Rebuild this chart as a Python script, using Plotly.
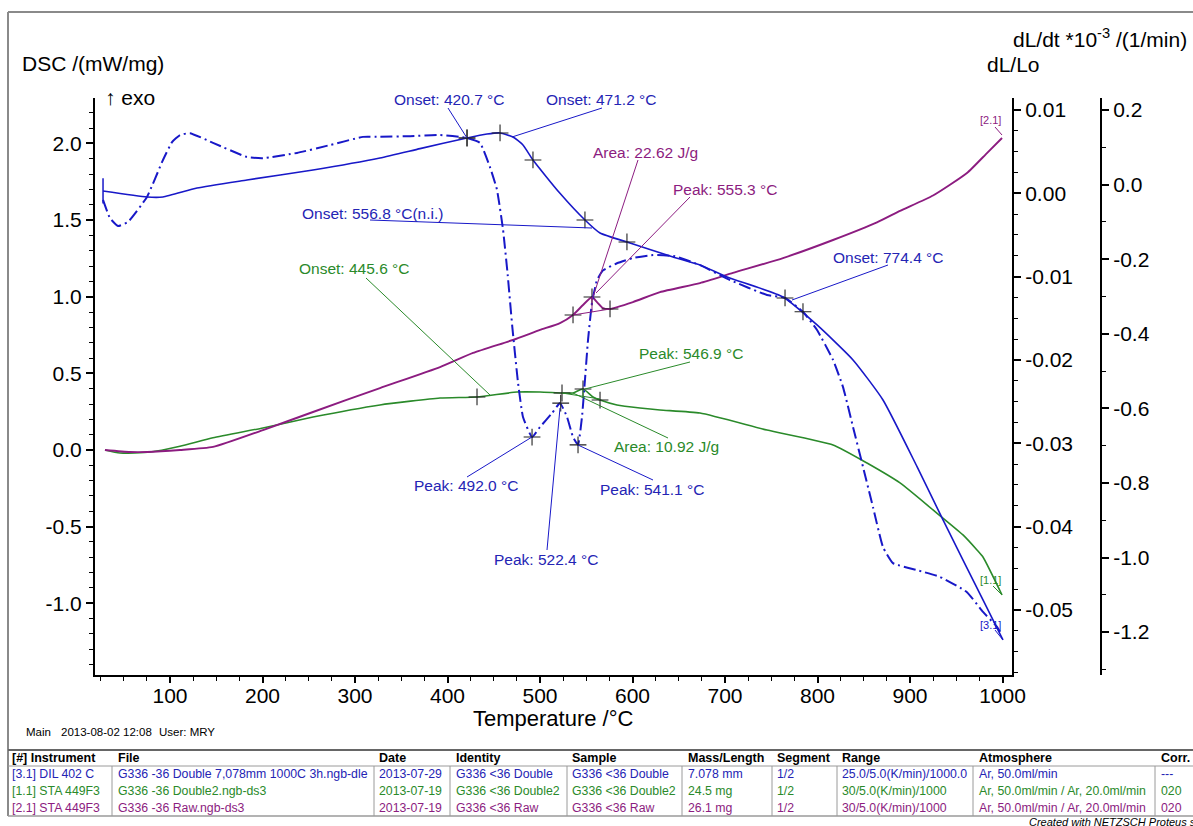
import plotly.graph_objects as go

# ---------------- data ----------------
# [1.1] STA 449F3  DSC (mW/mg)  - green
green_T = [29.7, 45.9, 78.4, 110.8, 146.5, 200.5, 254.6, 327.0, 391.9, 431.9, 475.1, 500.0,
           523.8, 535.7, 546.5, 557.3, 564.9, 583.2, 608.1, 629.7, 673.0, 745.4, 816.8, 853.5,
           889.2, 924.9, 957.3, 972.4, 978.9, 999.5]
green_dsc = [0.0, -0.020, -0.013, 0.025, 0.080, 0.144, 0.215, 0.294, 0.339, 0.346, 0.378, 0.378,
             0.372, 0.372, 0.398, 0.346, 0.326, 0.294, 0.274, 0.261, 0.241, 0.130, 0.033, -0.085,
             -0.215, -0.391, -0.554, -0.652, -0.698, -0.946]

# [2.1] STA 449F3  DSC (mW/mg)  - purple
purple_T = [29.7, 56.8, 75.1, 110.8, 146.5, 200.5, 254.6, 327.0, 391.9, 427.6, 470.8, 500.0,
            521.6, 535.7, 546.5, 556.2, 561.6, 568.1, 575.7, 600.5, 629.7, 673.0, 708.6, 762.7,
            816.8, 864.3, 889.2, 924.9, 961.6, 983.2, 999.5]
purple_dsc = [0.0, -0.013, -0.013, 0.0, 0.020, 0.130, 0.248, 0.404, 0.541, 0.633, 0.718, 0.783,
              0.828, 0.881, 0.946, 0.998, 0.965, 0.926, 0.920, 0.965, 1.030, 1.089, 1.155, 1.252,
              1.370, 1.485, 1.560, 1.660, 1.807, 1.937, 2.035]

# [3.1] DIL 402 C  dL/Lo  - blue solid
dil_T = [27.6, 75.1, 92.4, 129.2, 183.2, 254.6, 327.0, 370.3, 421.1, 442.7, 456.8, 470.8, 481.6,
         492.4, 521.6, 548.6, 564.9, 597.3, 643.8, 673.0, 702.2, 762.7, 799.5, 838.4, 870.8,
         907.6, 935.7, 978.9, 1000.5]
dil_dLLo = [0.00028, -0.00044, -0.00044, 0.00064, 0.0016, 0.0028, 0.00424, 0.00536, 0.00664,
            0.00711, 0.00724, 0.00676, 0.00580, 0.00400, 0.0, -0.00320, -0.00476, -0.00596,
            -0.00764, -0.0086, -0.01004, -0.01244, -0.01580, -0.0200, -0.0248, -0.0328, -0.0392,
            -0.0488, -0.0536]

# [3.1] DIL 402 C  dL/dt *10^-3 (1/min)  - blue dash-dot
ddt_T = [27.6, 35.1, 43.8, 54.6, 75.1, 92.4, 102.2, 110.8, 121.6, 146.5, 183.2, 200.5, 237.3,
         273.0, 308.6, 327.0, 359.5, 391.9, 421.1, 435.1, 445.9, 453.5, 460.0, 465.0, 470.0,
         476.2, 481.6, 491.4, 500.0, 513.0, 521.6, 529.2, 535.7, 541.1, 545.4, 548.6, 551.9,
         556.2, 561.6, 568.1, 583.2, 600.5, 622.2, 645.9, 673.0, 705.4, 745.4, 764.9, 784.3,
         799.5, 816.8, 827.6, 838.4, 849.2, 860.0, 870.8, 881.6, 907.6, 932.4, 961.6, 978.9,
         994.1, 997.3]
ddt_val = [-0.041, -0.090, -0.111, -0.100, -0.033, 0.066, 0.114, 0.133, 0.138, 0.112, 0.074,
           0.071, 0.085, 0.106, 0.128, 0.128, 0.130, 0.133, 0.125, 0.112, 0.047, -0.014, -0.120,
           -0.240, -0.380, -0.530, -0.623, -0.677, -0.650, -0.613, -0.586, -0.623, -0.677, -0.698,
           -0.623, -0.524, -0.417, -0.317, -0.256, -0.230, -0.211, -0.197, -0.189, -0.192, -0.216,
           -0.256, -0.296, -0.304, -0.341, -0.390, -0.470, -0.543, -0.650, -0.757, -0.865, -0.972,
           -1.015, -1.034, -1.052, -1.093, -1.146, -1.186, -1.200]

# evaluation markers (+)
dil_mk_T = [421.1, 456.8, 492.4, 548.6, 594.0]
dil_mk_v = [0.00664, 0.00724, 0.0040, -0.0032, -0.00584]
ddt_mk_T = [421.1, 491.4, 522.4, 541.1, 764.9, 784.3]
ddt_mk_v = [0.125, -0.677, -0.586, -0.698, -0.304, -0.341]
purple_mk_T = [535.7, 556.2, 575.7]
purple_mk_v = [0.881, 0.998, 0.920]
green_mk_T = [431.9, 523.8, 546.5, 564.9]
green_mk_v = [0.346, 0.372, 0.398, 0.326]

# tick labels
dsc_ticks = [-1.0, -0.5, 0.0, 0.5, 1.0, 1.5, 2.0]
dsc_ticktext = ["-1.0", "-0.5", "0.0", "0.5", "1.0", "1.5", "2.0"]
dl_ticks = [-0.05, -0.04, -0.03, -0.02, -0.01, 0.0, 0.01]
dl_ticktext = ["-0.05", "-0.04", "-0.03", "-0.02", "-0.01", "0.00", "0.01"]
dt_ticks = [-1.2, -1.0, -0.8, -0.6, -0.4, -0.2, 0.0, 0.2]
dt_ticktext = ["-1.2", "-1.0", "-0.8", "-0.6", "-0.4", "-0.2", "0.0", "0.2"]

# info table
table_header = ["[#] Instrument", "File", "Date", "Identity", "Sample", "Mass/Length",
                "Segment", "Range", "Atmosphere", "Corr."]
table_rows = [
    ["[3.1] DIL 402 C", "G336 -36 Double 7,078mm 1000C 3h.ngb-dle", "2013-07-29",
     "G336 <36 Double", "G336 <36 Double", "7.078 mm", "1/2", "25.0/5.0(K/min)/1000.0",
     "Ar, 50.0ml/min", "---"],
    ["[1.1] STA 449F3", "G336 -36 Double2.ngb-ds3", "2013-07-19", "G336 <36 Double2",
     "G336 <36 Double2", "24.5 mg", "1/2", "30/5.0(K/min)/1000",
     "Ar, 50.0ml/min / Ar, 20.0ml/min", "020"],
    ["[2.1] STA 449F3", "G336 -36 Raw.ngb-ds3", "2013-07-19", "G336 <36 Raw", "G336 <36 Raw",
     "26.1 mg", "1/2", "30/5.0(K/min)/1000", "Ar, 50.0ml/min / Ar, 20.0ml/min", "020"],
]

# ---------------- styling / layout ----------------
BLUE = "#1818c8"
BLUE_T = "#2424b4"
GREEN = "#2a8a2a"
PURPLE = "#8c1c80"
FONT = "Arial, Liberation Sans, sans-serif"
W, H = 1193, 826
L, R, TOP, BOT = 95, 1101, 98, 675
XRIGHT = 1012


def P(x, y):
    return (x - L) / (R - L), (BOT - y) / (BOT - TOP)


assert len(green_T) == len(green_dsc)
assert len(purple_T) == len(purple_dsc)
assert len(dil_T) == len(dil_dLLo)
assert len(ddt_T) == len(ddt_val)

fig = go.Figure()
fig.add_trace(go.Scatter(x=green_T, y=green_dsc, mode="lines", yaxis="y",
                         line=dict(color=GREEN, width=1.6, shape="spline", smoothing=0.5)))
fig.add_trace(go.Scatter(x=purple_T, y=purple_dsc, mode="lines", yaxis="y",
                         line=dict(color=PURPLE, width=1.9, shape="spline", smoothing=0.5)))
fig.add_trace(go.Scatter(x=dil_T, y=dil_dLLo, mode="lines", yaxis="y2",
                         line=dict(color=BLUE, width=1.6, shape="spline", smoothing=0.5)))
fig.add_trace(go.Scatter(x=dil_T[:1], y=dil_dLLo[:1], mode="markers", yaxis="y2",
                         marker=dict(symbol="line-ns", size=18, line=dict(width=1.5, color=BLUE))))
fig.add_trace(go.Scatter(x=ddt_T, y=ddt_val, mode="lines", yaxis="y3",
                         line=dict(color=BLUE, width=2, dash="12px,4px,2px,4px",
                                   shape="spline", smoothing=0.4)))

mk = dict(symbol="cross-thin", size=12, line=dict(width=1.1, color="#222222"))
fig.add_trace(go.Scatter(x=dil_mk_T, y=dil_mk_v, mode="markers", yaxis="y2", marker=mk))
fig.add_trace(go.Scatter(x=ddt_mk_T, y=ddt_mk_v, mode="markers", yaxis="y3", marker=mk))
fig.add_trace(go.Scatter(x=purple_mk_T, y=purple_mk_v, mode="markers", yaxis="y", marker=mk))
fig.add_trace(go.Scatter(x=green_mk_T, y=green_mk_v, mode="markers", yaxis="y", marker=mk))


def axis_common():
    return dict(showline=True, linecolor="black", linewidth=2, showgrid=False, zeroline=False,
                ticks="outside", ticklen=7, tickwidth=1.5, tickcolor="black",
                tickfont=dict(size=21, family=FONT, color="black"))


def minor_vals(lo, hi, step, n):
    return [round(lo + i * step, 6) for i in range(n) if lo + i * step <= hi + 1e-9]


xa = axis_common()
xa.update(domain=[0, (XRIGHT - L) / (R - L)], range=[18.92, 1010.27], tickmode="linear",
          tick0=0, dtick=100, ticklen=6, ticklabelstandoff=-5,
          minor=dict(tickmode="linear", tick0=0, dtick=25, ticklen=4, ticks="outside",
                     tickcolor="black", tickwidth=1.2, showgrid=False))
ya = axis_common()
ya.update(range=[-1.4677, 2.2962], tickmode="array", tickvals=dsc_ticks, ticktext=dsc_ticktext,
          minor=dict(tickmode="array", tickvals=minor_vals(-1.4, 2.3, 0.1, 40), ticklen=4,
                     ticks="outside", tickcolor="black", tickwidth=1.2, showgrid=False))
ya2 = axis_common()
ya2.update(overlaying="y", side="right", anchor="x", range=[-0.057807, 0.011437],
           tickmode="array", tickvals=dl_ticks, ticktext=dl_ticktext,
           minor=dict(tickmode="array", tickvals=minor_vals(-0.0575, 0.0115, 0.0025, 30),
                      ticklen=4, ticks="outside", tickcolor="black", tickwidth=1.2,
                      showgrid=False))
ya3 = axis_common()
ya3.update(overlaying="y", side="right", anchor="free", position=1.0, range=[-1.3151, 0.23224],
           tickmode="array", tickvals=dt_ticks, ticktext=dt_ticktext,
           minor=dict(tickmode="array", tickvals=minor_vals(-1.3, 0.23, 0.1, 20), ticklen=4,
                      ticks="outside", tickcolor="black", tickwidth=1.2, showgrid=False))

fig.update_layout(width=W, height=H, margin=dict(l=L, r=W - R, t=TOP, b=H - BOT, pad=0),
                  paper_bgcolor="white", plot_bgcolor="white", showlegend=False,
                  font=dict(family=FONT, color="black"),
                  xaxis=xa, yaxis=ya, yaxis2=ya2, yaxis3=ya3)

ann = []
shapes = []


def text(s, x, y, color="black", size=15.5, anchor="center", bold=False, italic=False):
    px, py = P(x, y)
    if bold:
        s = "<b>" + s + "</b>"
    if italic:
        s = "<i>" + s + "</i>"
    ann.append(dict(text=s, x=px, y=py, xref="paper", yref="paper", showarrow=False,
                    xanchor=anchor, yanchor="middle",
                    font=dict(size=size, color=color, family=FONT)))


def line(x0, y0, x1, y1, color, width=1.0):
    a, b = P(x0, y0)
    c, d = P(x1, y1)
    shapes.append(dict(type="line", xref="paper", yref="paper", x0=a, y0=b, x1=c, y1=d,
                       line=dict(color=color, width=width)))


# axis titles
text("DSC /(mW/mg)", 20, 63, size=21, anchor="left")
text("↑ exo", 103, 97, size=21, anchor="left")
text("dL/dt *10<sup>-3</sup> /(1/min)", 1011, 38, size=21, anchor="left")
text("dL/Lo", 985, 64, size=21, anchor="left")
text("Temperature /°C", 553, 718, size=22)

# evaluation labels
labels = [
    ("Onset: 420.7 °C", 449, 100, BLUE_T),
    ("Onset: 471.2 °C", 601, 100, BLUE_T),
    ("Area: 22.62 J/g", 645, 152, PURPLE),
    ("Peak: 555.3 °C", 725, 189, PURPLE),
    ("Onset: 556.8 °C(n.i.)", 372, 213, BLUE_T),
    ("Onset: 774.4 °C", 888, 257, BLUE_T),
    ("Onset: 445.6 °C", 354, 268, GREEN),
    ("Peak: 546.9 °C", 691, 353, GREEN),
    ("Area: 10.92 J/g", 666, 446, GREEN),
    ("Peak: 492.0 °C", 466, 485, BLUE_T),
    ("Peak: 522.4 °C", 546, 559, BLUE_T),
    ("Peak: 541.1 °C", 652, 489, BLUE_T),
]
for s, x, y, c in labels:
    text(s, x, y, color=c)

text("[2.1]", 990, 120, color=PURPLE, size=11)
text("[1.1]", 990, 580, color=GREEN, size=11)
text("[3.1]", 990, 625, color=BLUE, size=11)

leaders = [
    (448, 108, 467, 138, BLUE), (602, 108, 512, 137, BLUE), (370, 220, 592, 228, BLUE),
    (888, 265, 792, 300, BLUE), (467, 477, 532, 437, BLUE), (547, 550, 560, 408, BLUE),
    (653, 480, 578, 445, BLUE),
    (366, 278, 490, 395, GREEN), (690, 362, 585, 389, GREEN), (668, 438, 573, 393, GREEN),
    (638, 160, 592, 300, PURPLE), (690, 197, 596, 293, PURPLE),
    (995, 127, 1002, 135, PURPLE), (993, 586, 1002, 595, GREEN), (995, 630, 1003, 640, BLUE),
    (573, 315, 610, 309, PURPLE), (592, 297, 592, 312, PURPLE),
    (562, 393, 600, 399, GREEN), (583, 389, 583, 396, GREEN),
]
for x0, y0, x1, y1, c in leaders:
    line(x0, y0, x1, y1, c, 1.0)

# footer line
text("Main", 24, 732, size=11.5, anchor="left")
text("2013-08-02 12:08", 59, 732, size=11.5, anchor="left")
text("User: MRY", 157, 732, size=11.5, anchor="left")

# frame and table
GRAY = "#8a8a8a"
line(8, 12, 1200, 12, GRAY, 2)
line(8, 12, 8, 816, GRAY, 2)
line(8, 750, 1200, 750, "#666666", 2)
line(8, 766, 1200, 766, "#9a9a9a", 1)
line(8, 816, 1200, 816, "#9a9a9a", 1.5)
seps = [112, 374, 450, 567, 682, 772, 837, 973, 1155]
for sx in seps:
    line(sx, 766, sx, 816, "#9a9a9a", 1)
col_x = [10, 116, 377, 454, 570, 686, 775, 840, 977, 1159]
for cx, h in zip(col_x, table_header):
    text(h, cx, 758, size=12.5, anchor="left", bold=True)
row_colors = [BLUE_T, GREEN, PURPLE]
row_y = [774, 791, 808]
for row, c, ry in zip(table_rows, row_colors, row_y):
    for cx, v in zip(col_x, row):
        text(v, cx, ry, color=c, size=12.3, anchor="left")
text("Created with NETZSCH Proteus software", 1027, 822, size=11, anchor="left", italic=True)

fig.update_layout(annotations=ann, shapes=shapes)

fig.write_html("out.html", config={"displayModeBar": False},
               post_script="document.body.style.margin='0';document.body.style.overflow='hidden';")
